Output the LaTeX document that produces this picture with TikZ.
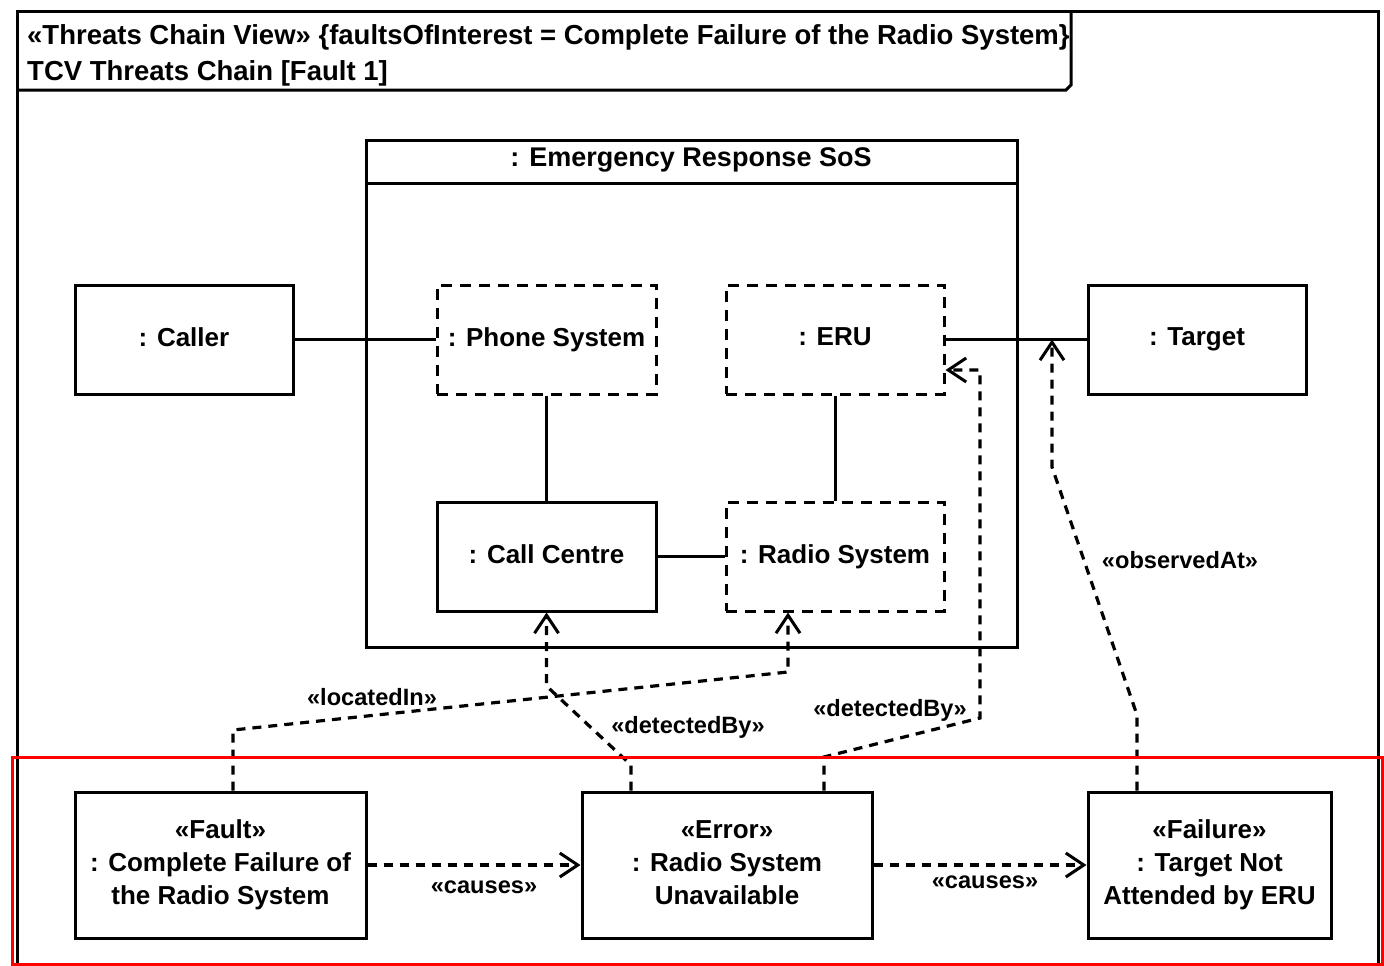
\documentclass[tikz,border=0pt]{standalone}
\usepackage{fontspec}
\setmainfont{Liberation Sans}
\usetikzlibrary{arrows.meta}
\tikzset{
  obj/.style={draw, line width=3pt, rectangle, inner sep=0pt, align=center,
    font=\bfseries\fontsize{26}{33}\selectfont},
  dobj/.style={obj, dash pattern=on 11pt off 8pt},
  conn/.style={line width=3pt},
  dep/.style={line width=3.2pt, dash pattern=on 9pt off 7pt,
    -{Straight Barb[length=18pt,width=24pt,line width=3pt]}},
  lbl/.style={font=\bfseries\fontsize{23.6}{28}\selectfont, inner sep=0pt},
  ttl/.style={font=\bfseries\fontsize{27.5}{32}\selectfont, inner sep=0pt, anchor=west}
}
\begin{document}
\begin{tikzpicture}[x=1pt,y=-1pt]
\useasboundingbox (0,0) rectangle (1384,966);
\clip (0,0) rectangle (1384,966);
% frame
\draw[line width=3pt] (17,990) -- (17,12) -- (1378,12) -- (1378,990);
\draw[line width=3pt] (17,90) -- (1066,90) -- (1071,85) -- (1071,12);
\node[ttl] (t1) at (27,37) {«Threats Chain View» \{faultsOfInterest = Complete Failure of the Radio System\}};
\node[ttl] (t2) at (27,73) {TCV Threats Chain [Fault 1]};
% SoS container
\draw[line width=3pt] (366,140) rectangle (1017,647);
\draw[line width=3pt] (366,183) -- (1017,183);
\node[lbl, font=\bfseries\fontsize{27}{32}\selectfont] (sos) at (691,160) {: Emergency Response SoS};
% objects
\node[obj, minimum width=218pt, minimum height=109pt] (caller) at (184,339.5) {: Caller\vphantom{y}};
\node[dobj, minimum width=219pt, minimum height=109pt] (phone) at (546.5,339.5) {: Phone System};
\node[dobj, minimum width=218pt, minimum height=109pt] (eru) at (835,339.5) {: ERU\vphantom{y}};
\node[obj, minimum width=218pt, minimum height=109pt] (target) at (1197,339.5) {: Target};
\node[obj, minimum width=219pt, minimum height=109pt] (cc) at (546.5,556.5) {: Call Centre\vphantom{y}};
\node[dobj, minimum width=218pt, minimum height=109pt] (radio) at (835,556.5) {: Radio System};
\node[obj, minimum width=291pt, minimum height=146pt] (fault) at (220.5,865) {«Fault»\\: Complete Failure of\\the Radio System};
\node[obj, minimum width=290pt, minimum height=146pt] (error) at (727,865) {«Error»\\: Radio System\\Unavailable\vphantom{y}};
\node[obj, minimum width=243pt, minimum height=146pt] (failure) at (1209.5,865) {«Failure»\\: Target Not\\Attended by ERU};
% solid connectors
\draw[conn] (caller.east) -- (phone.west);
\draw[conn] (eru.east) -- (target.west);
\draw[conn] (phone.south) -- (cc.north);
\draw[conn] (eru.south) -- (radio.north);
\draw[conn] (cc.east) -- (radio.west);
% bend points
\coordinate (l1) at (233,730);
\coordinate (l2) at (788,672);
\coordinate (d1) at (631,765);
\coordinate (d2) at (546.5,686);
\coordinate (e1) at (824,757);
\coordinate (e2) at (980,718);
\coordinate (e3) at (980,370);
\coordinate (o1) at (1137,715);
\coordinate (o2) at (1052,467);
% dependencies
\draw[dep] (l1 |- fault.north) -- (l1) -- (l2) -- (l2 |- radio.south);
\draw[dep] (d1 |- error.north) -- (d1) -- (d2) -- (cc.south);
\draw[dep] (e1 |- error.north) -- (e1) -- (e2) -- (e3) -- (e3 -| eru.east);
\draw[dep] (o1 |- failure.north) -- (o1) -- (o2) -- (o2 |- target.west);
\draw[dep] (fault.east) -- (error.west);
\draw[dep] (error.east) -- (failure.west);
% labels
\node[lbl] (lb1) at (372,697) {«locatedIn»};
\node[lbl] (lb2) at (688,727) {«detectedBy»};
\node[lbl] (lb3) at (890,710) {«detectedBy»};
\node[lbl] (lb4) at (1180,560) {«observedAt»};
\node[lbl] (lb5) at (484,887) {«causes»};
\node[lbl] (lb6) at (985,882) {«causes»};
% highlight
\draw[red, line width=3pt] (12,757) rectangle (1382,964);
\end{tikzpicture}
\end{document}
